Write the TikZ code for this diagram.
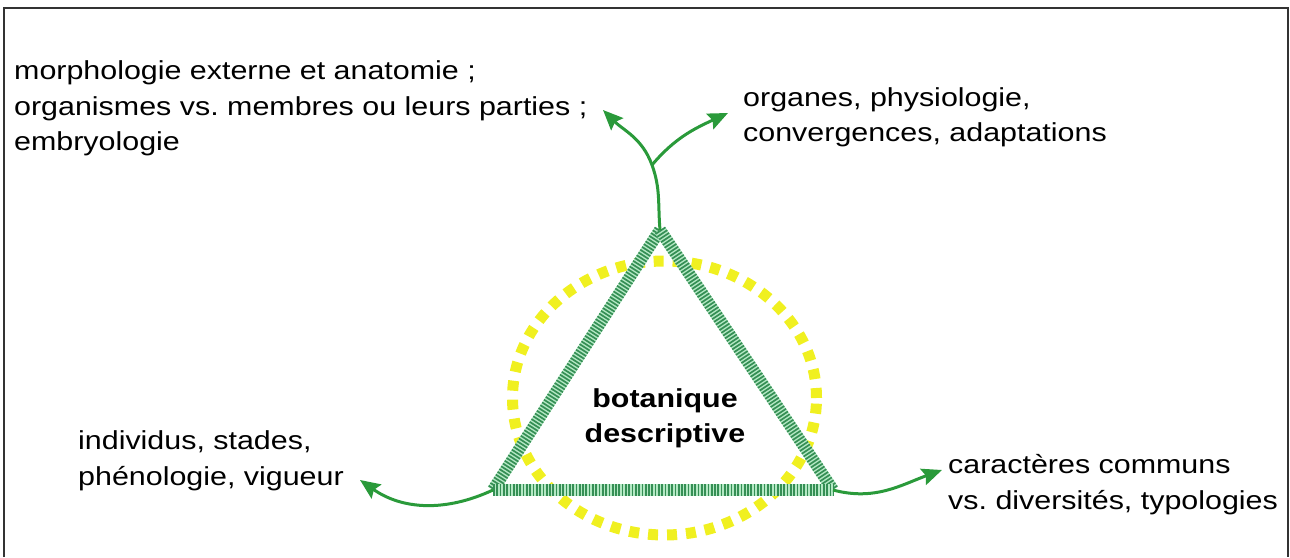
\documentclass[tikz,border=0pt]{standalone}
\usepackage{fontspec}
\setmainfont[FakeStretch=1.17]{Liberation Sans}
\usetikzlibrary{arrows.meta}
\definecolor{lgreen}{HTML}{2A9A3A}
\definecolor{hgreen}{HTML}{358F55}
\definecolor{hlight}{HTML}{B4E8C4}
\definecolor{dotyel}{HTML}{F0F020}
\frenchspacing

\begin{document}
\begin{tikzpicture}[x=1pt, y=1pt,
    lbl/.style={font=\fontsize{26}{35.5}\selectfont, align=left, inner sep=0pt},
    arr/.style={-{Stealth[length=20pt, width=17pt, inset=3pt]}, line width=3pt, draw=lgreen},
    edgebase/.style={line width=12pt, draw=hlight},
    edgehatch/.style={line width=12pt, draw=hgreen, dash pattern=on 1.7pt off 1.6pt},
    dotring/.style={line width=11pt, draw=dotyel, dash pattern=on 10pt off 9pt},
  ]
    \useasboundingbox (0,0) rectangle (1290,557);
    \draw[line width=2pt, black!80] (4,0) |- (1288,548.5) -- (1288,0);

    % triangle corners and free ends
    \coordinate (apex) at (660,327);
    \coordinate (lv) at (493,67);
    \coordinate (rv) at (833,67);
    \coordinate (fork) at (652,392);
    \coordinate (tipml) at (603,447);
    \coordinate (tipmr) at (728,444);
    \coordinate (tipl) at (360,77);
    \coordinate (tipr) at (942,87);

    \draw[dotring] (664.5,159) ellipse [x radius=152pt, y radius=137pt];

    \foreach \a/\b in {apex/lv, apex/rv, lv/rv} {
      \draw[edgebase] (\a) -- (\b);
      \draw[edgehatch] (\a) -- (\b);
    }

    \node[lbl, align=center, font=\fontsize{26}{35.5}\selectfont\bfseries] (bota) at (665,138.5) {botanique\\descriptive};

    % base = last line
    \node[lbl, anchor=base west] (morph) at (14,406) {morphologie externe et anatomie ;\\organismes vs. membres ou leurs parties ;\\embryologie};
    \node[lbl, anchor=base west] (organ) at (743,415) {organes, physiologie,\\convergences, adaptations};
    \node[lbl, anchor=base west] (indiv) at (78,72) {individus, stades,\\phénologie, vigueur};
    \node[lbl, anchor=base west] (carac) at (948,48) {caractères communs\\vs. diversités, typologies};

    \draw[arr] (apex) to[out=95, in=-70] (fork) to[out=110, in=-45] (tipml);
    \draw[arr] (fork) to[out=50, in=-155] (tipmr);
    \draw[arr] (lv) to[out=205, in=-35] (tipl);
    \draw[arr] (rv) to[out=-15, in=200] (tipr);
  \end{tikzpicture}
\end{document}
